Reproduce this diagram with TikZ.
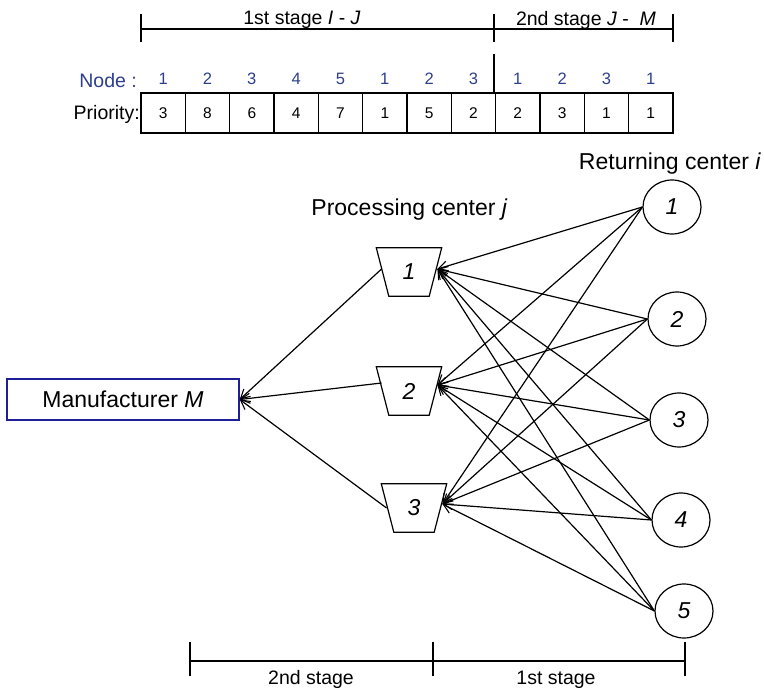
\documentclass[tikz,border=0pt]{standalone}
\usepackage{fontspec}
\setmainfont{Liberation Sans}
\usetikzlibrary{arrows.meta,shapes.geometric}
\definecolor{nodeblue}{RGB}{44,62,140}
\definecolor{boxblue}{RGB}{30,30,150}

\begin{document}
\begin{tikzpicture}[x=1pt,y=-1pt,
  big/.style={font=\fontsize{23}{27}\selectfont},
  bigit/.style={font=\fontsize{23}{27}\selectfont\itshape},
  mid/.style={font=\fontsize{19.5}{23}\selectfont},
  small/.style={font=\fontsize{16.5}{19}\selectfont},
  link/.style={line width=1.2pt,-{Straight Barb[length=9pt,width=10pt,line width=1.1pt]}},
  bar/.style={line width=1.4pt},
  cell/.style={draw,line width=1.3pt,minimum width=44.33pt,minimum height=40pt,
    inner sep=0pt,font=\fontsize{15.5}{18}\selectfont},
  ret/.style={draw,line width=1.2pt,ellipse,minimum width=58pt,minimum height=54pt,
    inner sep=0pt,bigit},
  proc/.style={minimum width=52.5pt,minimum height=48pt,inner sep=0pt,bigit},
  mbox/.style={draw=boxblue,line width=1.5pt,minimum width=232pt,minimum height=41pt,
    inner sep=0pt,big}
]
\useasboundingbox (0,0) rectangle (764,690);

% top scale: the two stages of the encoding
\coordinate (tl) at (141,29);
\coordinate (tm) at (494,29);
\coordinate (tr) at (673,29);
\draw[bar] (tl) -- (tr);
\foreach \c in {tl,tm,tr} \draw[bar] ([yshift=-13pt]\c) -- ([yshift=15pt]\c);
\draw[bar] (494,54) -- (494,93);
\node[mid,anchor=base,inner sep=0pt] (s1) at (302,25) {1st stage \textit{I} - \textit{J}};
\node[mid,anchor=base,inner sep=0pt] (s2) at (586,26) {2nd stage \textit{J} -\ \ \textit{M}};

% priority-based encoding table
\node[mid,text=nodeblue,anchor=base east,inner sep=0pt] (nodelbl) at (137,88) {Node :};
\node[mid,anchor=base east,inner sep=0pt] (prilbl) at (140,120) {Priority:};
\foreach \n/\p [count=\i] in {1/3,2/8,3/6,4/4,5/7,1/1,2/5,3/2,1/2,2/3,3/1,1/1} {
  \node[cell] (p\i) at ({141+44.33*(\i-0.5)},113) {\p};
  \node[small,text=nodeblue,anchor=base,inner sep=0pt] (n\i) at ({141+44.33*(\i-0.5)},85) {\n};
}

% headings
\node[big,anchor=base,inner sep=0pt] (rethead) at (670,170) {Returning center \textit{i}};
\node[big,anchor=base,inner sep=0pt] (prochead) at (409.5,215) {Processing center \textit{j}};

% returning centers
\node[ret] (r1) at (672,207) {1};
\node[ret] (r2) at (677,319) {2};
\node[ret] (r3) at (679,420) {3};
\node[ret] (r4) at (681,520) {4};
\node[ret] (r5) at (684,611) {5};

% processing centers (trapezoids)
\node[proc] (t1) at (409,272) {1};
\node[proc] (t2) at (409,391) {2};
\node[proc] (t3) at (414,508) {3};
\foreach \j in {1,2,3}
  \draw[line width=1.2pt,line join=miter]
    ([xshift=-6.25pt]t\j.north west) -- ([xshift=6.25pt]t\j.north east)
    -- ([xshift=-6.25pt]t\j.south east) -- ([xshift=6.25pt]t\j.south west) -- cycle;

% manufacturer
\node[mbox] (mf) at (123,399.5) {Manufacturer \textit{M}};

% flows: returning -> processing (entry point per processing center)
\foreach \j/\dy in {1/3,2/6,3/4}
  \coordinate (in\j) at ([yshift=\dy pt,xshift=2pt]t\j.east);
\foreach \j/\dy in {1/3,2/8,3/0}
  \coordinate (out\j) at ([yshift=\dy pt,xshift=-1pt]t\j.west);
\foreach \i in {1,...,5}
  \foreach \j in {1,2,3}
    \draw[link] (r\i.west) -- (in\j);
% processing -> manufacturer
\foreach \j in {1,2,3}
  \draw[link] (out\j) -- (mf.east);

% bottom scale
\coordinate (bl) at (190,661);
\coordinate (bm) at (433,661);
\coordinate (br) at (685,661);
\draw[bar] (bl) -- (br);
\foreach \c in {bl,bm,br} \draw[bar] ([yshift=-15pt]\c) -- ([yshift=19pt]\c);
\node[mid,anchor=base,inner sep=0pt] (b2) at (311,684) {2nd stage};
\node[mid,anchor=base,inner sep=0pt] (b1) at (556,684) {1st stage};
\end{tikzpicture}
\end{document}
